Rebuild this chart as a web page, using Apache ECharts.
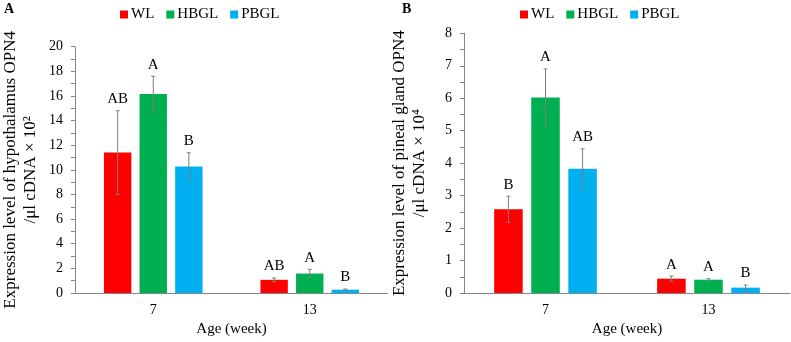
<!DOCTYPE html>
<html><head><meta charset="utf-8">
<script src="https://cdn.jsdelivr.net/npm/echarts@6/dist/echarts.min.js"></script>
<style>html,body{margin:0;padding:0;background:#fff}#c{width:791px;height:342px}</style>
</head><body><div id="c"></div>
<script>
const categories = ['7', '13'];
const groups = ['WL', 'HBGL', 'PBGL'];
const colors = ['#FF0000', '#00B050', '#00B0F0'];
// Panel A: hypothalamus
const aMeans = { WL: [11.4, 1.07], HBGL: [16.15, 1.58], PBGL: [10.27, 0.27] };
const aErrs  = { WL: [3.4, 0.15], HBGL: [1.45, 0.34], PBGL: [1.12, 0.05] };
const aLetters = { WL: ['AB', 'AB'], HBGL: ['A', 'A'], PBGL: ['B', 'B'] };
// Panel B: pineal gland
const bMeans = { WL: [2.58, 0.44], HBGL: [6.02, 0.41], PBGL: [3.83, 0.165] };
const bErrs  = { WL: [0.4, 0.08], HBGL: [0.88, 0.03], PBGL: [0.61, 0.08] };
const bLetters = { WL: ['B', 'A'], HBGL: ['A', 'A'], PBGL: ['AB', 'B'] };
const aTicks = { min: 0, max: 20, interval: 2 };
const bTicks = { min: 0, max: 8, interval: 1 };

const FONT = '"Liberation Serif", "Times New Roman", serif';
const BAR_FRAC = 0.175, BAR_GAP = 0.3;
const chart = echarts.init(document.getElementById('c'));

function yAxis(idx, t, name) {
  return {
    type: 'value', gridIndex: idx, min: t.min, max: t.max, interval: t.interval,
    name: name, nameLocation: 'middle', nameGap: 34,
    nameTextStyle: { fontFamily: FONT, fontSize: 17, color: '#000', lineHeight: 20 },
    axisLine: { show: true, lineStyle: { color: '#868686', width: 1 } },
    axisTick: { show: true, length: 4, lineStyle: { color: '#868686' } },
    minorTick: { show: true, splitNumber: 2, length: 4, lineStyle: { color: '#868686' } },
    splitLine: { show: false },
    axisLabel: { fontFamily: FONT, fontSize: 14, color: '#000', margin: 12 }
  };
}
function xAxis(idx) {
  return {
    type: 'category', gridIndex: idx, data: categories,
    name: 'Age (week)', nameLocation: 'middle', nameGap: 29,
    nameTextStyle: { fontFamily: FONT, fontSize: 15, color: '#000' },
    axisLine: { lineStyle: { color: '#868686', width: 1 } },
    axisTick: { show: false },
    axisLabel: { fontFamily: FONT, fontSize: 14, color: '#000', margin: 10 }
  };
}

const series = [];
function addPanel(idx, means, errs, letters) {
  groups.forEach((g, i) => {
    series.push({
      type: 'bar', name: g, xAxisIndex: idx, yAxisIndex: idx,
      data: means[g], barWidth: (BAR_FRAC * 100) + '%', barGap: (BAR_GAP * 100) + '%',
      itemStyle: { color: colors[i] }, silent: true
    });
  });
  groups.forEach((g, i) => {
    const data = categories.map((c, k) => [k, means[g][k], errs[g][k], letters[g][k]]);
    series.push({
      type: 'custom', xAxisIndex: idx, yAxisIndex: idx, silent: true, z: 10,
      data: data,
      renderItem: function (params, api) {
        const k = api.value(0), m = api.value(1), e = api.value(2);
        const bw = api.size([1, 0])[0] * BAR_FRAC;
        const off = (i - 1) * bw * (1 + BAR_GAP);
        const top = api.coord([k, m + e]);
        const bot = api.coord([k, m - e]);
        const x = top[0] + off;
        const st = { stroke: '#7f7f7f', lineWidth: 1 };
        return {
          type: 'group', children: [
            { type: 'line', shape: { x1: x, y1: top[1], x2: x, y2: bot[1] }, style: st },
            { type: 'line', shape: { x1: x - 2, y1: top[1], x2: x + 2, y2: top[1] }, style: st },
            { type: 'line', shape: { x1: x - 2, y1: bot[1], x2: x + 2, y2: bot[1] }, style: st },
            { type: 'text', x: x, y: top[1] - 4, style: { text: letters[g][k], font: '15px ' + FONT, fill: '#000', align: 'center', verticalAlign: 'bottom' } }
          ]
        };
      }
    });
  });
}
addPanel(0, aMeans, aErrs, aLetters);
addPanel(1, bMeans, bErrs, bLetters);

function legend(left) {
  return {
    left: left, top: 2, data: groups, icon: 'rect', itemWidth: 8, itemHeight: 8, itemGap: 12,
    textStyle: { fontFamily: FONT, fontSize: 15, color: '#000', padding: [0, 0, 0, -2] },
    selectedMode: false
  };
}

chart.setOption({
  animation: false,
  grid: [
    { left: 70, right: 403, top: 46.7, bottom: 45.3 },
    { left: 464, right: 1, top: 33.3, bottom: 46.3 }
  ],
  legend: [legend(115), legend(515)],
  xAxis: [xAxis(0), xAxis(1)],
  yAxis: [
    yAxis(0, aTicks, 'Expression level of hypothalamus OPN4\n/μl cDNA × 10²'),
    yAxis(1, bTicks, 'Expression level of pineal gland OPN4\n/μl cDNA × 10⁴')
  ],
  graphic: [
    { type: 'text', left: 4, top: 2, style: { text: 'A', font: 'bold 14px ' + FONT, fill: '#000' } },
    { type: 'text', left: 402, top: 2, style: { text: 'B', font: 'bold 14px ' + FONT, fill: '#000' } }
  ],
  series: series
});
</script></body></html>
